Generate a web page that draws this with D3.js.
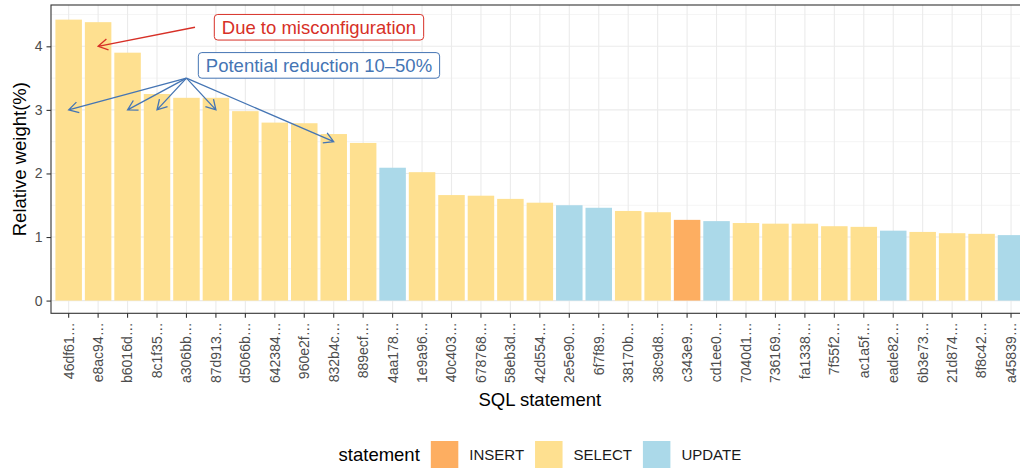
<!DOCTYPE html>
<html>
<head>
  <meta charset="utf-8">
  <title>SQL statement weights</title>
  <script src="https://cdn.jsdelivr.net/npm/d3@7"></script>
  <style>
    body { margin: 0; background: #fff; }
    text { font-family: "Liberation Sans", Arial, sans-serif; }
  </style>
</head>
<body>
<svg width="1020" height="468" id="chart"></svg>
<script>
// data
var categories = ["46df61\u2026", "e8ac94\u2026", "b6016d\u2026", "8c1f35\u2026", "a306bb\u2026", "87d913\u2026",
  "d5066b\u2026", "642384\u2026", "960e2f\u2026", "832b4c\u2026", "889ecf\u2026", "4aa178\u2026", "1e9a96\u2026",
  "40c403\u2026", "678768\u2026", "58eb3d\u2026", "42d554\u2026", "2e5e90\u2026", "6f7f89\u2026", "38170b\u2026",
  "38c9d8\u2026", "c343e9\u2026", "cd1ee0\u2026", "7040d1\u2026", "736169\u2026", "fa1338\u2026", "7f55f2\u2026",
  "ac1a5f\u2026", "eade82\u2026", "6b3e73\u2026", "21d874\u2026", "8f8c42\u2026", "a45839\u2026"];
var statements = ["SELECT", "SELECT", "SELECT", "SELECT", "SELECT", "SELECT", "SELECT", "SELECT",
  "SELECT", "SELECT", "SELECT", "UPDATE", "SELECT", "SELECT", "SELECT", "SELECT", "SELECT",
  "UPDATE", "UPDATE", "SELECT", "SELECT", "INSERT", "UPDATE", "SELECT", "SELECT", "SELECT",
  "SELECT", "SELECT", "UPDATE", "SELECT", "SELECT", "SELECT", "UPDATE"];
var weights = [4.42, 4.38, 3.90, 3.25, 3.19, 3.19, 2.98, 2.80, 2.79, 2.62, 2.48, 2.09, 2.02,
  1.66, 1.65, 1.60, 1.54, 1.50, 1.46, 1.41, 1.39, 1.27, 1.25, 1.22, 1.21, 1.21, 1.17, 1.16,
  1.10, 1.08, 1.06, 1.05, 1.03];
var yTicks = [0, 1, 2, 3, 4];
var yMinor = [0.5, 1.5, 2.5, 3.5, 4.5];
var legendKeys = ["INSERT", "SELECT", "UPDATE"];
var legendColors = ["#FDAE61", "#FEE090", "#ABD9E9"];

// annotations: label position in (category index, value)
var noteTexts = ["Due to misconfiguration", "Potential reduction 10\u201350%"];
var noteColors = ["#D73027", "#4575B4"];
var noteX = [8.5, 8.5];
var noteY = [4.3, 3.7];
// arrows: [fromIndex, fromValue, toIndex, toValue, note]
var arrows = [
  [4.29, 4.3, 1, 4.0, 0],
  [4, 3.5, 0, 3.0, 1],
  [4, 3.5, 2, 3.0, 1],
  [4, 3.5, 3, 3.0, 1],
  [4, 3.5, 5, 3.0, 1],
  [4, 3.5, 9, 2.5, 1]
];

var panel = {left: 51, right: 1028.7, top: 5, bottom: 313.3};

var svg = d3.select("#chart");

var x = d3.scaleBand()
  .domain(categories)
  .range([panel.left, panel.right])
  .paddingInner(0.1)
  .paddingOuter(0.15);
var y = d3.scaleLinear()
  .domain([-0.2, 4.65])
  .range([panel.bottom, panel.top]);
var color = d3.scaleOrdinal().domain(legendKeys).range(legendColors);

function xAt(i) { return x(categories[0]) + x.bandwidth() / 2 + i * x.step(); }

var g = svg.append("g");

// grid
g.selectAll(".ygmin").data(yMinor).enter().append("line")
  .attr("x1", panel.left).attr("x2", panel.right)
  .attr("y1", function(d) { return y(d); }).attr("y2", function(d) { return y(d); })
  .attr("stroke", "#EBEBEB").attr("stroke-width", 0.55);
g.selectAll(".ygmaj").data(yTicks).enter().append("line")
  .attr("x1", panel.left).attr("x2", panel.right)
  .attr("y1", function(d) { return y(d); }).attr("y2", function(d) { return y(d); })
  .attr("stroke", "#EBEBEB").attr("stroke-width", 1.1);
g.selectAll(".xg").data(categories).enter().append("line")
  .attr("x1", function(d) { return x(d) + x.bandwidth() / 2; })
  .attr("x2", function(d) { return x(d) + x.bandwidth() / 2; })
  .attr("y1", panel.top).attr("y2", panel.bottom)
  .attr("stroke", "#EBEBEB").attr("stroke-width", 1.1);

// bars
g.selectAll(".bar").data(weights).enter().append("rect")
  .attr("x", function(d, i) { return x(categories[i]); })
  .attr("width", x.bandwidth())
  .attr("y", function(d) { return y(d); })
  .attr("height", function(d) { return y(0) - y(d); })
  .attr("fill", function(d, i) { return color(statements[i]); });

// arrows
function arrowPath(a) {
  var x0 = xAt(a[0]), y0 = y(a[1]), x1 = xAt(a[2]), y1 = y(a[3]);
  var ang = Math.atan2(y1 - y0, x1 - x0), len = 11, spread = Math.PI / 6;
  var p = "M" + x0 + "," + y0 + "L" + x1 + "," + y1;
  p += "M" + (x1 - len * Math.cos(ang - spread)) + "," + (y1 - len * Math.sin(ang - spread));
  p += "L" + x1 + "," + y1;
  p += "L" + (x1 - len * Math.cos(ang + spread)) + "," + (y1 - len * Math.sin(ang + spread));
  return p;
}
g.selectAll(".arrow").data(arrows).enter().append("path")
  .attr("d", arrowPath)
  .attr("fill", "none")
  .attr("stroke", function(d) { return noteColors[d[4]]; })
  .attr("stroke-width", 1.3);

// label boxes
noteTexts.forEach(function(t, i) {
  var ng = g.append("g");
  var txt = ng.append("text")
    .attr("x", xAt(noteX[i])).attr("y", y(noteY[i]))
    .attr("dy", "0.36em")
    .attr("text-anchor", "middle")
    .attr("font-size", "18.5px")
    .attr("fill", noteColors[i])
    .text(t);
  var w = txt.node().getComputedTextLength();
  ng.insert("rect", "text")
    .attr("x", xAt(noteX[i]) - w / 2 - 7.5)
    .attr("y", y(noteY[i]) - 12.8)
    .attr("width", w + 15)
    .attr("height", 25.6)
    .attr("rx", 3.5)
    .attr("fill", "#fff")
    .attr("stroke", noteColors[i])
    .attr("stroke-width", 1);
});

// panel border
g.append("rect")
  .attr("x", panel.left).attr("y", panel.top)
  .attr("width", panel.right - panel.left).attr("height", panel.bottom - panel.top)
  .attr("fill", "none").attr("stroke", "#333333").attr("stroke-width", 1.1);

// y axis
var yAxis = svg.append("g")
  .attr("transform", "translate(" + panel.left + ",0)")
  .call(d3.axisLeft(y).tickValues(yTicks).tickFormat(d3.format("d")).tickSize(4.5).tickPadding(4));
yAxis.select(".domain").remove();
yAxis.selectAll(".tick line").attr("stroke", "#333333").attr("stroke-width", 1.1);
yAxis.selectAll(".tick text").attr("fill", "#4D4D4D").attr("font-size", "14px")
  .attr("font-family", "Liberation Sans, Arial, sans-serif");

// x axis
var xAxis = svg.append("g")
  .attr("transform", "translate(0," + panel.bottom + ")")
  .call(d3.axisBottom(x).tickSize(4.5).tickPadding(0));
xAxis.select(".domain").remove();
xAxis.selectAll(".tick line").attr("stroke", "#333333").attr("stroke-width", 1.1);
xAxis.selectAll(".tick text")
  .attr("fill", "#4D4D4D").attr("font-size", "14px")
  .attr("font-family", "Liberation Sans, Arial, sans-serif")
  .attr("text-anchor", "end")
  .attr("transform", "rotate(-90)")
  .attr("x", -9).attr("y", 0).attr("dy", "0.35em");

// axis titles
svg.append("text")
  .attr("x", (panel.left + panel.right) / 2).attr("y", 406)
  .attr("text-anchor", "middle").attr("font-size", "18.5px").attr("fill", "#000")
  .text("SQL statement");
svg.append("text")
  .attr("transform", "translate(26," + (panel.top + panel.bottom) / 2 + ") rotate(-90)")
  .attr("text-anchor", "middle").attr("font-size", "18.5px").attr("fill", "#000")
  .text("Relative weight(%)");

// legend
var lg = svg.append("g");
var lx = 0;
lg.append("text").attr("x", 0).attr("y", 454.5).attr("dy", "0.35em")
  .attr("font-size", "18.5px").text("statement")
  .each(function() { lx = this.getComputedTextLength() + 11; });
legendKeys.forEach(function(k, i) {
  lg.append("rect").attr("x", lx).attr("y", 441).attr("width", 27.5).attr("height", 27.5)
    .attr("fill", legendColors[i]);
  lx += 27.5 + 11;
  lg.append("text").attr("x", lx).attr("y", 454.5).attr("dy", "0.35em")
    .attr("font-size", "15px").attr("fill", "#1a1a1a").text(k)
    .each(function() { lx += this.getComputedTextLength() + 11; });
});
lx -= 11;
lg.attr("transform", "translate(" + ((panel.left + panel.right) / 2 - lx / 2) + ",0)");
</script>
</body>
</html>
